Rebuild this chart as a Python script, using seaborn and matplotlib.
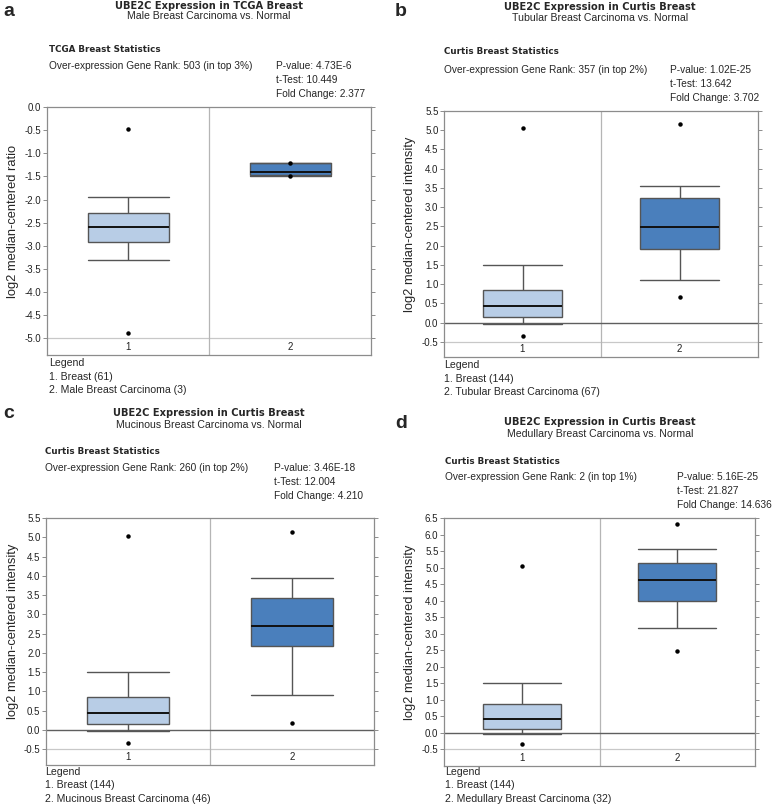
import numpy as np
import pandas as pd
import matplotlib
matplotlib.use("Agg")
import matplotlib.pyplot as plt
import seaborn as sns

sns.set_theme(style="white")
plt.rcParams['font.family'] = ['Liberation Sans', 'DejaVu Sans']
plt.rcParams['axes.unicode_minus'] = False

W, H = 784, 806

GROUPS = ["1", "2"]

# ---- Panel a (TCGA, male breast carcinoma) ----
A_MIN = [-4.88, -1.49]
A_P10 = [-3.30, -1.485]
A_Q1 = [-2.92, -1.48]
A_MED = [-2.60, -1.41]
A_Q3 = [-2.29, -1.21]
A_P90 = [-1.94, -1.205]
A_MAX = [-0.475, -1.20]

# ---- Panel b (Curtis, tubular) ----
B_MIN = [-0.34, 0.66]
B_P10 = [-0.04, 1.11]
B_Q1 = [0.14, 1.91]
B_MED = [0.43, 2.49]
B_Q3 = [0.86, 3.24]
B_P90 = [1.51, 3.55]
B_MAX = [5.05, 5.15]

# ---- Panel c (Curtis, mucinous) ----
C_MIN = [-0.34, 0.18]
C_P10 = [-0.03, 0.91]
C_Q1 = [0.15, 2.19]
C_MED = [0.43, 2.70]
C_Q3 = [0.86, 3.43]
C_P90 = [1.51, 3.94]
C_MAX = [5.04, 5.14]

# ---- Panel d (Curtis, medullary) ----
D_MIN = [-0.32, 2.49]
D_P10 = [-0.03, 3.16]
D_Q1 = [0.13, 3.99]
D_MED = [0.42, 4.61]
D_Q3 = [0.86, 5.15]
D_P90 = [1.51, 5.57]
D_MAX = [5.06, 6.33]

LETTERS = ["a", "b", "c", "d"]
TITLES = ["UBE2C Expression in TCGA Breast", "UBE2C Expression in Curtis Breast",
          "UBE2C Expression in Curtis Breast", "UBE2C Expression in Curtis Breast"]
SUBTITLES = ["Male Breast Carcinoma vs. Normal", "Tubular Breast Carcinoma vs. Normal",
             "Mucinous Breast Carcinoma vs. Normal", "Medullary Breast Carcinoma vs. Normal"]
STAT_HEADS = ["TCGA Breast Statistics", "Curtis Breast Statistics",
              "Curtis Breast Statistics", "Curtis Breast Statistics"]
RANKS = ["Over-expression Gene Rank: 503 (in top 3%)", "Over-expression Gene Rank: 357 (in top 2%)",
         "Over-expression Gene Rank: 260 (in top 2%)", "Over-expression Gene Rank: 2 (in top 1%)"]
PVALS = ["P-value: 4.73E-6", "P-value: 1.02E-25", "P-value: 3.46E-18", "P-value: 5.16E-25"]
TTESTS = ["t-Test: 10.449", "t-Test: 13.642", "t-Test: 12.004", "t-Test: 21.827"]
FOLDS = ["Fold Change: 2.377", "Fold Change: 3.702", "Fold Change: 4.210", "Fold Change: 14.636"]
LEGEND_1 = ["1. Breast (61)", "1. Breast (144)", "1. Breast (144)", "1. Breast (144)"]
LEGEND_2 = ["2. Male Breast Carcinoma (3)", "2. Tubular Breast Carcinoma (67)",
            "2. Mucinous Breast Carcinoma (46)", "2. Medullary Breast Carcinoma (32)"]
YLABELS = ["log2 median-centered ratio", "log2 median-centered intensity",
           "log2 median-centered intensity", "log2 median-centered intensity"]
YTICKS = [np.arange(-5.0, 0.01, 0.5), np.arange(-0.5, 5.51, 0.5),
          np.arange(-0.5, 5.51, 0.5), np.arange(-0.5, 6.51, 0.5)]
YLIMS = [(-5.36, 0.0), (-0.89, 5.5), (-0.91, 5.5), (-1.0, 6.5)]

STATS = [
    (A_MIN, A_P10, A_Q1, A_MED, A_Q3, A_P90, A_MAX),
    (B_MIN, B_P10, B_Q1, B_MED, B_Q3, B_P90, B_MAX),
    (C_MIN, C_P10, C_Q1, C_MED, C_Q3, C_P90, C_MAX),
    (D_MIN, D_P10, D_Q1, D_MED, D_Q3, D_P90, D_MAX),
]

LIGHT = "#b8cde6"
DARK = "#4a7fbc"
EDGE = "#555555"
SPINE = "#8c8c8c"

# layout in pixels: (left, right, top, bottom) of axes
AX_PX = [(47, 371, 107, 355), (444, 758, 111, 357), (46, 374, 518, 765), (444, 755, 518, 766)]
TXT = [
    dict(lx=3, ly=11, cx=209, ty=6, sy=16, hy=49, ry=66, px=276, ey=363, tx=49, yl=13),
    dict(lx=395, ly=11, cx=600, ty=7, sy=18, hy=52, ry=70, px=670, ey=365, tx=444, yl=410),
    dict(lx=3, ly=414, cx=209, ty=413, sy=425, hy=451, ry=468, px=274, ey=772, tx=45, yl=13),
    dict(lx=395, ly=423, cx=600, ty=422, sy=434, hy=462, ry=477, px=677, ey=772, tx=445, yl=410),
]


def build_frame(stats):
    mn, p10, q1, med, q3, p90, mx = stats
    rows = []
    for i, g in enumerate(GROUPS):
        vals = [mn[i], p10[i], q1[i], q1[i], med[i], med[i], med[i], q3[i], q3[i], p90[i], mx[i]]
        for v in vals:
            rows.append({"group": g, "value": v})
    return pd.DataFrame(rows)


fig = plt.figure(figsize=(W / 100, H / 100), dpi=100)


def fx(x):
    return x / W


def fy(y):
    return 1 - y / H


for k in range(4):
    l, r, t, b = AX_PX[k]
    ax = fig.add_axes([fx(l), fy(b), (r - l) / W, (b - t) / H])
    df = build_frame(STATS[k])
    ylo, yhi = YLIMS[k]
    ticks = YTICKS[k]
    ax.axhline(ticks[0], color="#c8c8c8", lw=0.9, zorder=0)
    if k > 0:
        ax.axhline(0.0, color="#5f5f5f", lw=1.0, zorder=1)
    ax.axvline(0.5, color="#b5b5b5", lw=0.9, zorder=0)
    sns.boxplot(data=df, x="group", y="value", hue="group", palette=[LIGHT, DARK],
                order=GROUPS, hue_order=GROUPS, legend=False, width=0.5, whis=(10, 90),
                saturation=1, linecolor=EDGE, linewidth=1.0, capwidths=0.5,
                medianprops=dict(color="#111111", linewidth=1.4),
                flierprops=dict(marker="o", markersize=2.2, markerfacecolor="black",
                                markeredgecolor="black"),
                ax=ax)
    ax.set_xlim(-0.5, 1.5)
    ax.set_ylim(ylo, yhi)
    ax.set_yticks(ticks)
    ax.set_yticklabels([f"{v:.1f}" for v in ticks], fontsize=7)
    ax.set_xticks([])
    ax.set_xlabel("")
    ax.set_ylabel("")
    ax.tick_params(axis="y", which="both", left=True, right=True, length=3, width=0.7,
                   color=SPINE, pad=1, labelcolor="#222222", direction="out")
    for s in ax.spines.values():
        s.set_color(SPINE)
        s.set_linewidth(0.9)
    ymid = (ylo + ticks[0]) / 2
    for i, g in enumerate(GROUPS):
        ax.text(i, ymid, g, ha="center", va="center", fontsize=7, color="#222222")

    T = TXT[k]
    fig.text(fx(T["lx"]), fy(T["ly"]), LETTERS[k], fontsize=14, fontweight="bold",
             ha="left", va="center", family=["Liberation Sans", "DejaVu Sans"])
    fig.text(fx(T["cx"]), fy(T["ty"]), TITLES[k], fontsize=7.1, fontweight="bold",
             ha="center", va="center", family=["DejaVu Sans"])
    fig.text(fx(T["cx"]), fy(T["sy"]), SUBTITLES[k], fontsize=7.6, ha="center", va="center")
    fig.text(fx(T["tx"]), fy(T["hy"]), STAT_HEADS[k], fontsize=6.3, fontweight="bold",
             ha="left", va="center", family=["DejaVu Sans"])
    fig.text(fx(T["tx"]), fy(T["ry"]), RANKS[k], fontsize=7.3, ha="left", va="center")
    fig.text(fx(T["px"]), fy(T["ry"]), PVALS[k], fontsize=7.3, ha="left", va="center")
    fig.text(fx(T["px"]), fy(T["ry"] + 14), TTESTS[k], fontsize=7.3, ha="left", va="center")
    fig.text(fx(T["px"]), fy(T["ry"] + 28), FOLDS[k], fontsize=7.3, ha="left", va="center")
    fig.text(fx(T["tx"]), fy(T["ey"]), "Legend", fontsize=7.6, ha="left", va="center")
    fig.text(fx(T["tx"]), fy(T["ey"] + 13.5), LEGEND_1[k], fontsize=7.6, ha="left", va="center")
    fig.text(fx(T["tx"]), fy(T["ey"] + 27), LEGEND_2[k], fontsize=7.6, ha="left", va="center")
    fig.text(fx(T["yl"]), fy((t + b) / 2 - 10), YLABELS[k], fontsize=9.3, rotation=90,
             ha="center", va="center")

fig.savefig("out.png", dpi=100, facecolor="white")
